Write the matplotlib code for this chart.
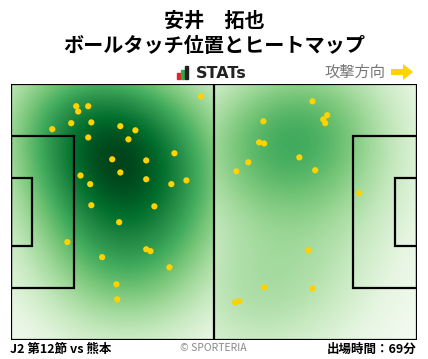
import numpy as np
import matplotlib.pyplot as plt
from matplotlib.colors import PowerNorm
from matplotlib.patches import Rectangle, FancyArrow

plt.rcParams['font.family'] = ['Noto Sans CJK JP', 'DejaVu Sans']

# %% data (pitch coords: 105 x 68, attack to the right)
player = '安井　拓也'
subtitle = 'ボールタッチ位置とヒートマップ'
match_label = 'J2 第12節 vs 熊本'
minutes_label = '出場時間：69分'

touch_x = [49.3, 17.0, 20.1, 17.5, 15.7, 20.9, 10.8, 28.4, 32.3, 20.1,
           30.5, 42.4, 26.3, 35.1, 28.4, 35.1, 45.5, 41.6, 18.1, 20.6,
           20.9, 37.2, 28.1, 14.7, 35.1, 36.2, 23.7, 41.1, 27.4, 27.6,
           78.1, 81.9, 80.9, 81.4, 65.4, 64.3, 65.6, 74.7, 61.5, 78.8,
           58.4, 90.2, 77.0, 65.6, 78.1, 58.1, 59.2]
touch_y = [64.7, 62.1, 62.1, 60.7, 57.6, 57.8, 56.0, 56.8, 55.7, 53.8,
           53.3, 49.6, 48.0, 47.7, 44.5, 42.7, 42.4, 41.4, 43.7, 41.4,
           35.8, 35.5, 31.3, 26.0, 24.1, 23.6, 22.0, 19.3, 14.8, 10.8,
           63.4, 59.7, 58.6, 57.6, 58.1, 52.5, 52.2, 48.5, 47.2, 45.1,
           44.8, 39.0, 23.8, 14.0, 13.7, 10.0, 10.3]

L, W = 105.0, 68.0

# %% figure
fig = plt.figure(figsize=(4.28, 3.59), dpi=100)
ax = fig.add_axes([10.5 / 428, 19 / 359, 406 / 428, 256 / 359])

tx = np.array(touch_x)
ty = np.array(touch_y)

# heatmap, one kde per half
sx, sy = 15.0, 14.0
res = 0.25
gy = np.arange(0, W + res, res)
halves = []
for x0, x1 in [(0, L / 2), (L / 2, L)]:
    gx = np.arange(x0, x1 + res, res)
    X, Y = np.meshgrid(gx, gy)
    m = (tx >= x0) & (tx < x1)
    Z = np.zeros_like(X)
    for px, py in zip(tx[m], ty[m]):
        Z += np.exp(-(X - px) ** 2 / (2 * sx ** 2) - (Y - py) ** 2 / (2 * sy ** 2))
    halves.append((Z, (x0, x1)))
zmax = max(h[0].max() for h in halves)
for Z, (x0, x1) in halves:
    ax.imshow(Z / zmax, extent=[x0, x1, 0, W], origin='lower', cmap='Greens',
              norm=PowerNorm(gamma=0.8, vmin=0.0, vmax=1.0), aspect='auto',
              interpolation='bilinear', zorder=1)

# pitch lines
lw = 1.6
kw = dict(fill=False, ec='black', lw=lw, zorder=3)
ax.add_patch(Rectangle((0, 0), L, W, **kw))
ax.plot([L / 2, L / 2], [0, W], color='black', lw=lw, zorder=3)
ax.add_patch(Rectangle((0, W / 2 - 20.16), 16.5, 40.32, **kw))
ax.add_patch(Rectangle((L - 16.5, W / 2 - 20.16), 16.5, 40.32, **kw))
ax.add_patch(Rectangle((0, W / 2 - 9.16), 5.5, 18.32, **kw))
ax.add_patch(Rectangle((L - 5.5, W / 2 - 9.16), 5.5, 18.32, **kw))

ax.scatter(tx, ty, s=20, color='#FFD200', edgecolors='none', zorder=4)

ax.set_xlim(0, L)
ax.set_ylim(0, W)
ax.axis('off')

# %% header / footer text
fig.text(0.5, 1 - 20 / 359, player, ha='center', va='center', fontsize=14.5, fontweight='bold')
fig.text(0.5, 1 - 45 / 359, subtitle, ha='center', va='center', fontsize=14.5, fontweight='bold')

# STATs logo
for i, (c, h) in enumerate([('#E8202A', 6), ('#2DA84A', 9), ('#222222', 13)]):
    fig.add_artist(Rectangle(((177 + i * 4) / 428, (359 - 79) / 359), 3 / 428, h / 359,
                             transform=fig.transFigure, color=c))
fig.text(196 / 428, 1 - 73 / 359, 'STATs', ha='left', va='center', fontsize=11.5,
         fontweight='bold', color='#222222', family='DejaVu Sans')

fig.text(385 / 428, 1 - 72 / 359, '攻撃方向', ha='right', va='center', fontsize=11, color='#777777')
fig.add_artist(FancyArrow(391 / 428, 1 - 72 / 359, 12 / 428, 0, width=6 / 359,
                          head_width=16 / 359, head_length=10 / 428,
                          transform=fig.transFigure, color='#FFD200', lw=0,
                          length_includes_head=False))

fig.text(10 / 428, 1 - 349 / 359, match_label, ha='left', va='center', fontsize=9, fontweight='bold')
fig.text(213 / 428, 1 - 348 / 359, '© SPORTERIA', ha='center', va='center', fontsize=7.5, color='#888888')
fig.text(416 / 428, 1 - 349 / 359, minutes_label, ha='right', va='center', fontsize=9, fontweight='bold')

fig.savefig('out.png', dpi=100)
